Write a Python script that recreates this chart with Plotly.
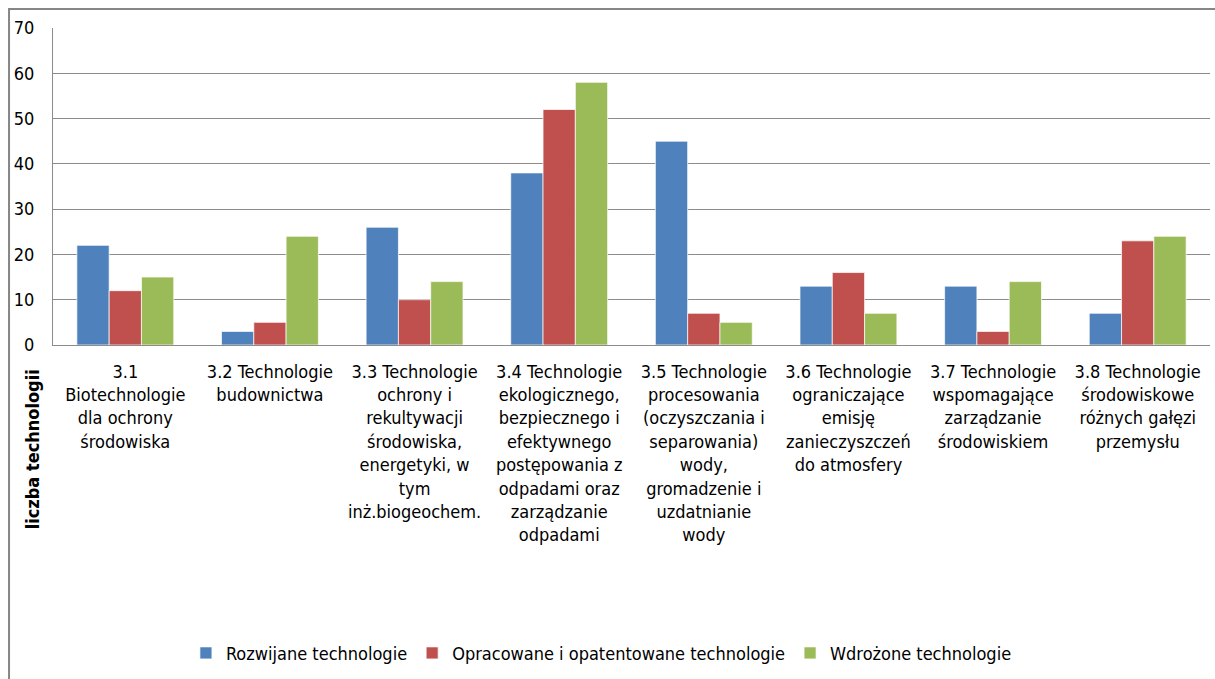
import plotly.graph_objects as go

categories = [
    "3.1<br>Biotechnologie<br>dla ochrony<br>środowiska",
    "3.2 Technologie<br>budownictwa",
    "3.3 Technologie<br>ochrony i<br>rekultywacji<br>środowiska,<br>energetyki, w<br>tym<br>inż.biogeochem.",
    "3.4 Technologie<br>ekologicznego,<br>bezpiecznego i<br>efektywnego<br>postępowania z<br>odpadami oraz<br>zarządzanie<br>odpadami",
    "3.5 Technologie<br>procesowania<br>(oczyszczania i<br>separowania)<br>wody,<br>gromadzenie i<br>uzdatnianie<br>wody",
    "3.6 Technologie<br>ograniczające<br>emisję<br>zanieczyszczeń<br>do atmosfery",
    "3.7 Technologie<br>wspomagające<br>zarządzanie<br>środowiskiem",
    "3.8 Technologie<br>środowiskowe<br>różnych gałęzi<br>przemysłu",
]
rozwijane = [22, 3, 26, 38, 45, 13, 13, 7]
opracowane = [12, 5, 10, 52, 7, 16, 3, 23]
wdrozone = [15, 24, 14, 58, 5, 7, 14, 24]

y_ticks = [0, 10, 20, 30, 40, 50, 60, 70]

FONT = "'DejaVu Sans Condensed', Lato, sans-serif"
GRID = "#8c8c8c"

series = [
    ("Rozwijane technologie", rozwijane, "#4F81BD"),
    ("Opracowane i opatentowane technologie", opracowane, "#C0504D"),
    ("Wdrożone technologie", wdrozone, "#9BBB59"),
]

fig = go.Figure()
for name, vals, color in series:
    fig.add_trace(go.Bar(
        name=name, x=categories, y=vals,
        marker_color=color,
        marker_line=dict(color="rgba(255,255,255,0.7)", width=1),
    ))

# y-axis title, placed like the Excel one (low on the left)
fig.add_annotation(
    text="<b>liczba technologii</b>", textangle=-90,
    xref="paper", yref="paper", x=-0.0175, y=-0.33,
    xanchor="center", yanchor="middle",
    showarrow=False, font=dict(size=18, color="black"),
)

# outer chart frame
fig.add_shape(
    type="rect", xref="paper", yref="paper",
    x0=-0.038, x1=1.05, y0=-1.2, y1=1.06,
    line=dict(color="#868686", width=2), layer="below",
)

fig.update_layout(
    width=1215, height=679,
    barmode="group", bargap=0.33, bargroupgap=0,
    margin=dict(l=53, r=5, t=28, b=334),
    plot_bgcolor="white", paper_bgcolor="white",
    font=dict(family=FONT, size=18, color="black"),
    showlegend=True,
    legend=dict(
        orientation="h", xref="container", yref="container",
        x=0.495, y=0.038, xanchor="center", yanchor="middle",
        font=dict(size=18), traceorder="normal",
    ),
)
fig.update_yaxes(
    range=[0, 70], tickvals=y_ticks, gridcolor=GRID, gridwidth=1,
    showline=True, linecolor=GRID, linewidth=1,
    zeroline=False, ticklabelstandoff=14,
)
fig.update_xaxes(
    showline=True, linecolor=GRID, linewidth=1,
    tickangle=0, ticklabelstandoff=10,
)

fig.write_html(
    "out.html",
    config={"displayModeBar": False},
    post_script="document.body.style.margin='0';",
)
